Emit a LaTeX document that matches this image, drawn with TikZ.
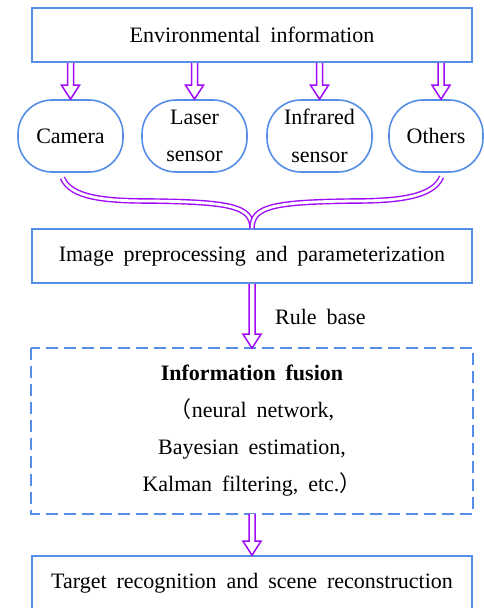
\documentclass[tikz,border=0pt]{standalone}
\usepackage{fontspec}
\setmainfont{Liberation Serif}
\newfontfamily\cjk{Noto Sans CJK SC}
\usetikzlibrary{calc}
\definecolor{boxblue}{RGB}{86,141,232}
\definecolor{arrowpurple}{RGB}{160,10,250}
\newcommand{\widesp}{\fontdimen2\font=0.45em\relax}
\newcommand{\bigtxt}{\fontsize{22}{26}\selectfont\widesp}
\newcommand{\bigtxtlines}{\fontsize{22}{37.5}\selectfont\widesp}
\newcommand{\fustxt}{\fontsize{22}{37}\selectfont\widesp}
\tikzset{
  box/.style={draw=boxblue, line width=1.6pt, minimum width=440pt, minimum height=54pt, inner sep=0pt, font=\bigtxt},
  sensor/.style={draw=boxblue, line width=1.6pt, rounded corners=34pt, minimum height=72pt, inner sep=0pt, align=center, font=\bigtxtlines},
  fatarrow/.style={draw=arrowpurple, line width=1.5pt, line join=miter, fill=white,
    to path={let \p1=(\tikztostart), \p2=(\tikztotarget) in
      (\x1-3pt,\y1) -- (\x1-3pt,\y2+14pt) -- (\x1-9pt,\y2+14pt) -- (\x1,\y2)
      -- (\x1+9pt,\y2+14pt) -- (\x1+3pt,\y2+14pt) -- (\x1+3pt,\y1)}},
  brace/.style={draw=arrowpurple, line width=1.4pt, double=white, double distance=2.8pt}
}
\begin{document}
\begin{tikzpicture}[x=1pt,y=-1pt]
\useasboundingbox[fill=white] (0,0) rectangle (484,608);
\node[box] (env) at (252,35) {Environmental information};
\node[sensor, minimum width=105pt] (cam) at (70.5,136) {Camera};
\node[sensor, minimum width=105pt] (las) at (194.5,136) {Laser\\sensor};
\node[sensor, minimum width=105pt] (inf) at (319.5,136) {Infrared\\sensor};
\node[sensor, minimum width=94pt] (oth) at (436,136) {Others};
\node[box] (img) at (252,256) {Image preprocessing and parameterization};
\node[box, draw=none, minimum height=164pt, align=center, font=\fustxt] (fus) at (252,431)
  {\textbf{\widesp Information fusion}\\{\cjk （}neural network,\\Bayesian estimation,\\Kalman filtering, etc.{\cjk ）}};
\draw[boxblue, line width=1.6pt, dash pattern=on 12pt off 6pt] (fus.north west) rectangle (fus.south east);
\node[box, minimum height=60pt] (tgt) at (252,586) {};
\node[font=\bigtxt] (tgttext) at (252,583) {Target recognition and scene reconstruction};
\node[anchor=west, inner sep=0pt, font=\bigtxt] (rule) at (275,317) {Rule base};
% arrows
\path (env.south -| cam.north) edge[fatarrow] (cam.north);
\path (env.south -| las.north) edge[fatarrow] (las.north);
\path (env.south -| inf.north) edge[fatarrow] (inf.north);
\path ([xshift=5pt]env.south -| oth.north) edge[fatarrow] ([xshift=5pt]oth.north);
\path (img.south) edge[fatarrow] (fus.north);
\path (fus.south) edge[fatarrow] (tgt.north);
% brace
\coordinate (bl) at ($(cam.south)+(-8,5)$);
\coordinate (br) at ($(oth.south)+(5.5,4)$);
\draw[brace] (bl) .. controls +(8,20) and +(-45,0) .. (150,201) .. controls +(80,1) and +(0,-22) .. (img.north);
\draw[brace] (br) .. controls +(-8,20) and +(45,0) .. (354,201) .. controls +(-80,1) and +(0,-22) .. (img.north);
\end{tikzpicture}
\end{document}
